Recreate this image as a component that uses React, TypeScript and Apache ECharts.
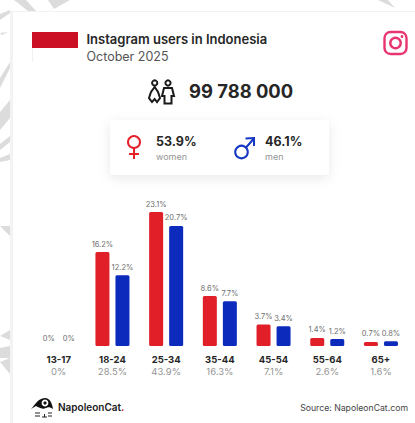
import React, { useEffect, useRef } from "react";
import * as echarts from "echarts";

const categories = ["13-17", "18-24", "25-34", "35-44", "45-54", "55-64", "65+"];
const totals = ["0%", "28.5%", "43.9%", "16.3%", "7.1%", "2.6%", "1.6%"];
const women = [0, 16.2, 23.1, 8.6, 3.7, 1.4, 0.7];
const men = [0, 12.2, 20.7, 7.7, 3.4, 1.2, 0.8];

const TITLE = "Instagram users in Indonesia";
const SUBTITLE = "October 2025";
const USERS = "99 788 000";
const WOMEN_SHARE = "53.9%";
const MEN_SHARE = "46.1%";
const SOURCE = "Source: NapoleonCat.com";
const BRAND = "NapoleonCat";

const FONT = "Inter, 'Noto Sans', sans-serif";
const RED = "#e01f28";
const BLUE = "#0c2bbd";
const DARK = "#262626";
const GREY = "#949494";

echarts.graphic.registerShape(
  "catBody",
  echarts.graphic.extendPath(
    "M31 409 C35 405 37 399 45 398 C50 398 52 403 53 409 C50 407 48 407 46 408 C42 410 38 407 36 406 Z",
    {}
  )
);

const leaf = (points: number[][]) => ({
  type: "polygon",
  shape: { points },
  style: { fill: "#dcdcdc" },
});

const text = (x: number, y: number, t: string, size: number, weight: number, fill: string, align = "left") => ({
  type: "text",
  x,
  y,
  style: { text: t, fontSize: size, fontWeight: weight, fontFamily: FONT, fill, align, verticalAlign: "middle" },
});

const stroke = (c: string, w: number) => ({ fill: "none", stroke: c, lineWidth: w });
const line = (x1: number, y1: number, x2: number, y2: number, c: string, w: number) => ({
  type: "line",
  shape: { x1, y1, x2, y2 },
  style: stroke(c, w),
});
const circle = (cx: number, cy: number, r: number, c: string, w: number) => ({
  type: "circle",
  shape: { cx, cy, r },
  style: stroke(c, w),
});
const dot = (cx: number, cy: number, r: number, c: string) => ({
  type: "circle",
  shape: { cx, cy, r },
  style: { fill: c },
});

const graphics: any[] = [
  // background foliage
  leaf([[0, 14], [10, 10], [10, 13], [0, 20]]),
  leaf([[0, 33], [8, 32], [2, 35]]),
  leaf([[0, 78], [10, 62], [10, 68], [0, 88]]),
  leaf([[0, 112], [10, 100], [10, 118], [0, 130]]),
  leaf([[0, 144], [10, 136], [10, 142], [0, 150]]),
  leaf([[0, 158], [10, 154], [10, 160], [0, 162]]),
  leaf([[0, 226], [10, 236], [10, 226]]),
  leaf([[0, 336], [10, 330], [10, 340]]),
  leaf([[0, 348], [10, 346], [10, 358], [0, 358]]),
  leaf([[0, 362], [10, 358], [10, 374]]),
  leaf([[14, 0], [26, 0], [36, 11], [28, 11]]),
  leaf([[48, 0], [70, 0], [54, 9]]),
  leaf([[378, 0], [395, 8], [388, 0]]),
  // card
  { type: "rect", shape: { x: 10, y: 11, width: 405, height: 412 }, style: { fill: "#f3f3f3" } },
  { type: "rect", shape: { x: 13, y: 12, width: 402, height: 411 }, style: { fill: "#ffffff" } },
  // flag
  { type: "rect", shape: { x: 32, y: 32, width: 46, height: 16 }, style: { fill: "#cb1026" } },
  line(32.5, 48, 32.5, 62, "#f1f1f1", 1),
  // heading
  text(86.5, 39, TITLE, 13, 600, DARK),
  text(86.5, 56, SUBTITLE, 12.5, 400, "#555555"),
  // Instagram icon
  { type: "rect", shape: { x: 384.5, y: 32, width: 22, height: 22, r: 6 }, style: stroke("#e8356f", 2.4) },
  circle(395.5, 43, 5.2, "#e8356f", 2.4),
  dot(402, 36.5, 1.4, "#e8356f"),
  // people icon
  circle(154.7, 83, 2.6, "#1a1a1a", 2),
  { type: "polygon", shape: { points: [[154.7, 87], [158, 92], [160, 98], [157, 102], [154.7, 99], [152, 102], [149, 98], [151, 92]] }, style: stroke("#1a1a1a", 2) },
  circle(168, 83, 2.6, "#1a1a1a", 2),
  { type: "polygon", shape: { points: [[164, 88], [172, 88], [174, 96], [171.5, 96], [171.5, 103.5], [164.5, 103.5], [164.5, 96], [162, 96]] }, style: stroke("#1a1a1a", 2) },
  text(189, 90.5, USERS, 18.4, 700, DARK),
  // gender panel
  { type: "rect", shape: { x: 110, y: 120, width: 219, height: 55, r: 3 }, style: { fill: "#ffffff", shadowBlur: 12, shadowColor: "rgba(0,0,0,0.09)", shadowOffsetY: 3 } },
  circle(134, 142, 6, "#e5202a", 2),
  line(134, 148, 134, 159, "#e5202a", 2),
  line(129, 154, 139, 154, "#e5202a", 2),
  circle(241.5, 152, 6.3, "#1536c4", 2),
  line(246, 147.5, 253.5, 139, "#1536c4", 2),
  { type: "polyline", shape: { points: [[245.5, 138.5], [254, 138], [254, 146]] }, style: stroke("#1536c4", 2) },
  text(156, 141, WOMEN_SHARE, 12.5, 700, DARK),
  text(156, 156, "women", 9, 400, GREY),
  text(265, 141, MEN_SHARE, 12.5, 700, DARK),
  text(265, 156, "men", 9, 400, GREY),
  // footer
  { type: "catBody", style: { fill: "#111111" } },
  dot(45, 403, 3.4, "#ffffff"),
  dot(45, 403, 1.6, "#111111"),
  line(35, 413, 40, 413, "#222222", 1),
  line(35, 416, 40, 416, "#222222", 1),
  line(42, 417, 47, 417, "#222222", 1),
  line(44.5, 414, 44.5, 417, "#222222", 1),
  line(48, 413, 52, 413, "#222222", 1),
  line(48, 416, 52, 416, "#222222", 1),
  {
    type: "text",
    x: 58,
    y: 407,
    style: {
      text: `{a|${BRAND}}{b|.}`,
      verticalAlign: "middle",
      rich: {
        a: { fontSize: 10, fontWeight: 600, fontFamily: FONT, fill: "#1a1a1a", color: "#1a1a1a" },
        b: { fontSize: 10, fontWeight: 700, fontFamily: FONT, fill: "#d8202a", color: "#d8202a" },
      },
    },
  },
  text(408, 407.5, SOURCE, 8.7, 400, "#444444", "right"),
];

const barSeries = (name: string, values: number[], color: string) => ({
  name,
  type: "bar",
  data: values,
  barWidth: 14,
  barGap: "43%",
  itemStyle: { color, borderRadius: 1.5 },
  label: {
    show: true,
    position: "top",
    distance: 4,
    formatter: (p: any) => `${p.value}%`,
    fontSize: 7.5,
    fontFamily: FONT,
    color: "#6e6e6e",
  },
});

export default function App() {
  const ref = useRef<HTMLDivElement>(null);
  useEffect(() => {
    const chart = echarts.init(ref.current!, undefined, { renderer: "svg" });
    chart.setOption({
      animation: false,
      backgroundColor: "#ffffff",
      graphic: { elements: graphics },
      grid: { left: 31.9, width: 375.9, top: 172, height: 174 },
      xAxis: {
        type: "category",
        data: categories,
        axisLine: { show: false },
        axisTick: { show: false },
        axisLabel: {
          margin: 7,
          interval: 0,
          formatter: (value: string, i: number) => `{a|${value}}\n{b|${totals[i]}}`,
          rich: {
            a: { fontSize: 9.5, fontWeight: 700, fontFamily: FONT, color: DARK, lineHeight: 12 },
            b: { fontSize: 9.5, fontWeight: 400, fontFamily: FONT, color: GREY, lineHeight: 12 },
          },
        },
      },
      yAxis: { type: "value", min: 0, max: 30, show: false },
      series: [barSeries("women", women, RED), barSeries("men", men, BLUE)],
    });
    return () => chart.dispose();
  }, []);
  return <div ref={ref} style={{ position: "fixed", left: 0, top: 0, width: 415, height: 423 }} />;
}
